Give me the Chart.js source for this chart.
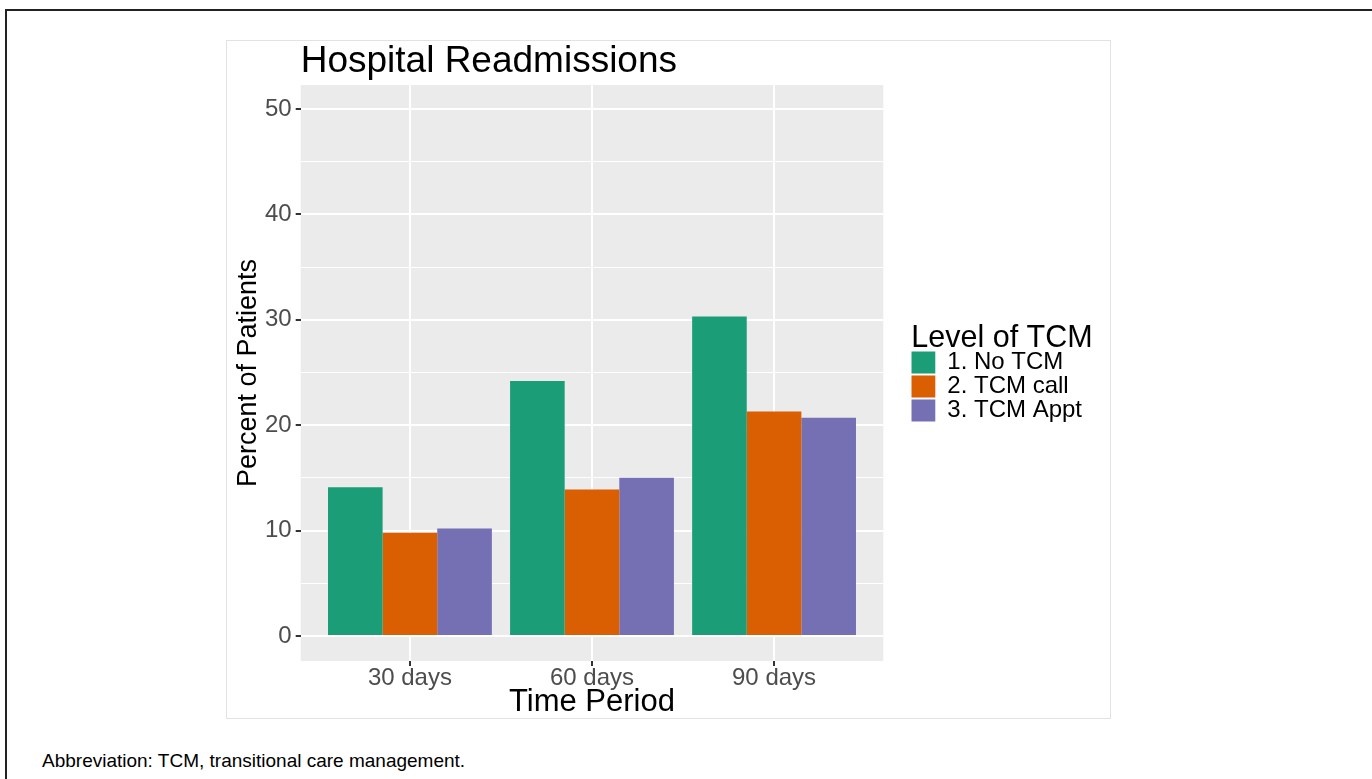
<!DOCTYPE html>
<html>
<head>
<meta charset="utf-8">
<script src="https://cdn.jsdelivr.net/npm/chart.js@4"></script>
<style>
  body { margin: 0; background: #fff; width: 1372px; height: 779px; overflow: hidden; position: relative; font-family: "Liberation Sans", Arial, sans-serif; }
  #frame { position: absolute; left: 5px; top: 9px; right: 0; bottom: 0; border-top: 2px solid #222; border-left: 2px solid #222; }
  #panel { position: absolute; left: 226px; top: 40px; width: 883px; height: 677px; border: 1px solid #e2e2e2; }
  #panel canvas { display: block; }
  #note { position: absolute; left: 42px; top: 750px; font-size: 19px; color: #000; }
</style>
</head>
<body>
<div id="frame"></div>
<div id="panel"><canvas id="bar-chart" width="883" height="677"></canvas></div>
<div id="note">Abbreviation: TCM, transitional care management.</div>
<script>
// chart data
const chartTitle = "Hospital Readmissions";
const periods = ["30 days", "60 days", "90 days"];
const groups = ["1. No TCM", "2. TCM call", "3. TCM Appt"];
const noTcm = [14.1, 24.2, 30.3];
const tcmCall = [9.8, 13.9, 21.3];
const tcmAppt = [10.2, 15.0, 20.7];
const yTicks = [0, 10, 20, 30, 40, 50];
const colors = ["#1B9E77", "#D95F02", "#7570B3"];

const font = "'Liberation Sans', Arial, sans-serif";
const series = [noTcm, tcmCall, tcmAppt];

// ggplot style grey panel behind the grid
const panelBg = {
  id: 'panelBg',
  beforeDraw(chart) {
    const a = chart.chartArea, ctx = chart.ctx;
    ctx.save();
    ctx.fillStyle = '#EBEBEB';
    ctx.fillRect(a.left, a.top, a.right - a.left, a.bottom - a.top);
    ctx.restore();
  }
};
// title left-aligned with the panel
const leftTitle = {
  id: 'leftTitle',
  afterDraw(chart) {
    const ctx = chart.ctx;
    ctx.save();
    ctx.font = "37px " + font;
    ctx.fillStyle = '#000';
    ctx.textBaseline = 'alphabetic';
    ctx.textAlign = 'left';
    ctx.fillText(chartTitle, chart.chartArea.left, 31);
    ctx.restore();
  }
};

new Chart(document.getElementById("bar-chart"), {
  type: 'bar',
  data: {
    datasets: groups.map((g, i) => ({
      label: g,
      backgroundColor: colors[i],
      borderWidth: 0,
      data: series[i].map((v, j) => ({x: j + 1, y: v})),
      categoryPercentage: 0.9,
      barPercentage: 1.0
    }))
  },
  options: {
    responsive: false,
    animation: false,
    devicePixelRatio: 1,
    layout: { padding: { top: 44, left: 8, right: 18, bottom: 0 } },
    plugins: {
      title: { display: false },
      tooltip: { enabled: false },
      legend: {
        position: 'right',
        align: 'center',
        fullSize: false,
        maxWidth: 220,
        title: {
          display: true,
          text: 'Level of TCM',
          position: 'start',
          color: '#000',
          font: { family: font, size: 30.5, lineHeight: 1 },
          padding: { top: 0, bottom: -3.5 }
        },
        labels: {
          boxWidth: 24,
          boxHeight: 22,
          padding: 0,
          color: '#000',
          font: { family: font, size: 24 }
        }
      }
    },
    scales: {
      x: {
        type: 'linear',
        min: 0.4,
        max: 3.6,
        offset: false,
        afterBuildTicks: s => { s.ticks = periods.map((p, i) => ({value: i + 1})); },
        grid: { offset: false, color: '#FFFFFF', lineWidth: 2, tickColor: '#333', tickLength: 5 },
        border: { display: false },
        ticks: {
          color: '#4D4D4D',
          padding: 0,
          font: { family: font, size: 24, lineHeight: 1 },
          callback: v => periods[v - 1]
        },
        title: {
          display: true,
          text: 'Time Period',
          color: '#000',
          padding: { top: -3, bottom: 0 },
          font: { family: font, size: 31, lineHeight: 1 }
        }
      },
      y: {
        min: -2.38,
        max: 52.28,
        afterBuildTicks: s => {
          const t = [];
          yTicks.forEach(v => { t.push({value: v}); if (v < 50) t.push({value: v + 5}); });
          s.ticks = t;
        },
        grid: {
          color: '#FFFFFF',
          lineWidth: c => (c.tick && c.tick.value % 10 === 0) ? 2 : 1,
          tickColor: c => (c.tick && c.tick.value % 10 === 0) ? '#333' : 'rgba(0,0,0,0)',
          tickLength: 5
        },
        border: { display: false },
        ticks: {
          color: '#4D4D4D',
          padding: 4,
          font: { family: font, size: 24, lineHeight: 1 },
          callback: v => (v % 10 === 0 ? v : '')
        },
        title: {
          display: true,
          text: 'Percent of Patients',
          color: '#000',
          padding: { top: 0, bottom: -1 },
          font: { family: font, size: 27, lineHeight: 1 }
        }
      },
      // empty spacer between the panel and the legend
      gap: {
        type: 'linear',
        position: 'right',
        display: true,
        grid: { display: false },
        border: { display: false },
        ticks: { display: false },
        afterFit: s => { s.width = 28; }
      }
    }
  },
  plugins: [panelBg, leftTitle]
});
</script>
</body>
</html>
